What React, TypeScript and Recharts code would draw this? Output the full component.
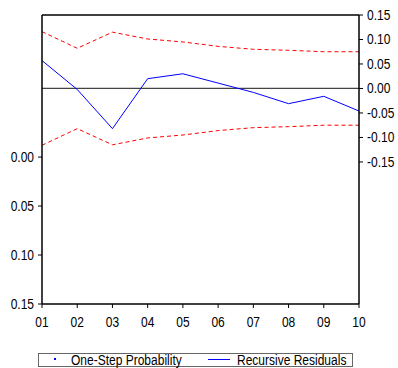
import React from 'react';
import { LineChart, Line, XAxis, YAxis, ReferenceLine } from 'recharts';

const periods = ['01', '02', '03', '04', '05', '06', '07', '08', '09', '10'];
const recursiveResiduals = [0.057, -0.002, -0.082, 0.02, 0.03, 0.011, -0.008, -0.031, -0.016, -0.046];
const upperBand = [0.116, 0.082, 0.115, 0.101, 0.095, 0.086, 0.08, 0.078, 0.075, 0.075];
const lowerBand = [-0.116, -0.082, -0.115, -0.101, -0.095, -0.086, -0.08, -0.078, -0.075, -0.075];
// One-step probabilities all fall outside the shown 0.00-0.15 range
const oneStepProbability: (number | null)[] = [null, null, null, null, null, null, null, null, null, null];

const leftTicks = [0, 0.05, 0.1, 0.15];
const rightTicks = [0.15, 0.1, 0.05, 0, -0.05, -0.1, -0.15];

const data = periods.map((p, i) => ({
  period: p,
  resid: recursiveResiduals[i],
  upper: upperBand[i],
  lower: lowerBand[i],
  prob: oneStepProbability[i],
}));

const font = 'Arial, "Liberation Sans", sans-serif';

function makeTick(anchor: 'start' | 'middle' | 'end', dy: string, fmt: (v: any) => string) {
  return (props: any) => {
    const { x, y, payload } = props;
    return (
      <g transform={`translate(${x},${y}) scale(1,1.15)`}>
        <text x={0} y={0} dy={dy} textAnchor={anchor} fontSize={12} fontFamily={font} fill="#000">
          {fmt(payload.value)}
        </text>
      </g>
    );
  };
}

const fmt2 = (v: number) => Number(v).toFixed(2);
const XTick = makeTick('middle', '0.71em', (v) => String(v));
const LTick = makeTick('end', '0.355em', fmt2);
const RTick = makeTick('start', '0.355em', fmt2);

const legendText: React.CSSProperties = {
  position: 'absolute',
  top: 0,
  whiteSpace: 'nowrap',
  display: 'inline-block',
  transform: 'scaleY(1.15)',
  transformOrigin: 'center',
};

export default function App() {
  return (
    <div style={{ position: 'absolute', left: 0, top: 0, width: 398, height: 368, background: '#fff' }}>
      <LineChart width={398} height={368} data={data} margin={{ top: 15, right: 0, left: 0, bottom: 34 }}>
        <XAxis
          dataKey="period"
          height={30}
          tick={XTick}
          tickSize={4}
          tickMargin={9}
          interval={0}
          axisLine={{ stroke: '#000', strokeWidth: 1.5 }}
          tickLine={{ stroke: '#000' }}
        />
        <YAxis
          yAxisId="left"
          orientation="left"
          width={42}
          domain={[-0.145, 0.15]}
          reversed
          ticks={leftTicks}
          allowDataOverflow
          tick={LTick}
          tickSize={4}
          tickMargin={4}
          axisLine={{ stroke: '#000', strokeWidth: 1.5 }}
          tickLine={{ stroke: '#000' }}
        />
        <YAxis
          yAxisId="right"
          orientation="right"
          width={39}
          domain={[-0.44, 0.15]}
          ticks={rightTicks}
          allowDataOverflow
          tick={RTick}
          tickSize={4}
          tickMargin={4}
          axisLine={{ stroke: '#000', strokeWidth: 1.5 }}
          tickLine={{ stroke: '#000' }}
        />
        <ReferenceLine yAxisId="right" y={0.15} stroke="#000" strokeWidth={1.5} />
        <ReferenceLine yAxisId="right" y={0} stroke="#444" strokeWidth={1.3} />
        <Line yAxisId="right" dataKey="upper" stroke="#ff0000" strokeDasharray="4 3" strokeWidth={1} dot={false} isAnimationActive={false} />
        <Line yAxisId="right" dataKey="lower" stroke="#ff0000" strokeDasharray="4 3" strokeWidth={1} dot={false} isAnimationActive={false} />
        <Line yAxisId="right" dataKey="resid" stroke="#0000ff" strokeWidth={1} dot={false} isAnimationActive={false} />
        <Line yAxisId="left" dataKey="prob" stroke="none" dot={{ r: 1, fill: '#0000ff', stroke: 'none' }} isAnimationActive={false} />
      </LineChart>
      <div
        style={{
          position: 'absolute',
          left: 38,
          top: 353,
          width: 315,
          height: 14,
          border: '1px solid #666',
          boxSizing: 'border-box',
          fontFamily: font,
          fontSize: 12,
          lineHeight: '12px',
          color: '#000',
        }}
      >
        <svg width={313} height={12} style={{ position: 'absolute', left: 0, top: 0 }}>
          <rect x={15} y={4} width={2} height={2} fill="#0000ff" />
          <line x1={169} x2={191} y1={5.5} y2={5.5} stroke="#0000ff" strokeWidth={1} />
        </svg>
        <span style={{ ...legendText, left: 32 }}>One-Step Probability</span>
        <span style={{ ...legendText, left: 198 }}>Recursive Residuals</span>
      </div>
    </div>
  );
}
